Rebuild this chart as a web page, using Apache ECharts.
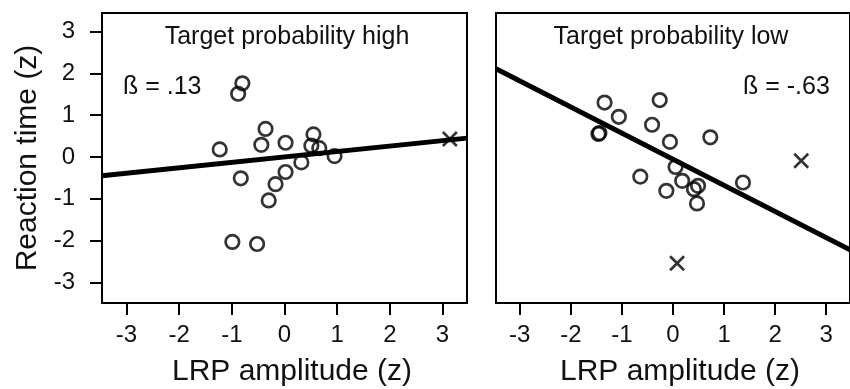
<!DOCTYPE html>
<html>
<head>
<meta charset="utf-8">
<script src="https://cdn.jsdelivr.net/npm/echarts@6/dist/echarts.min.js"></script>
<style>
html,body{margin:0;padding:0;background:#fff;}
#chart{width:850px;height:389px;}
</style>
</head>
<body>
<div id="chart"></div>
<script>
// ---- data ----
var tickValues = [-3, -2, -1, 0, 1, 2, 3];
var panelTitles = ['Target probability high', 'Target probability low'];
var betaLabels = ['\u00df = .13', '\u00df = -.63'];
var xAxisTitle = 'LRP amplitude (z)';
var yAxisTitle = 'Reaction time (z)';

// high probability panel
var highX = [-1.23, -0.88, -0.80, -0.83, -0.99, -0.52, -0.36, -0.44, -0.30, -0.17, 0.02, 0.02, 0.32, 0.55, 0.51, 0.66, 0.95];
var highY = [0.18, 1.51, 1.76, -0.51, -2.03, -2.08, 0.67, 0.29, -1.04, -0.65, 0.34, -0.36, -0.13, 0.54, 0.27, 0.21, 0.02];
var highOutX = [3.14];
var highOutY = [0.43];
var highLineX = [-3.465, 3.465];
var highLineY = [-0.45, 0.45];

// low probability panel
var lowX = [-1.34, -1.06, -1.44, -1.46, -0.26, -0.41, -0.06, 0.05, -0.64, 0.73, 0.18, -0.13, 0.49, 0.41, 0.47, 1.37];
var lowY = [1.30, 0.96, 0.57, 0.55, 1.36, 0.77, 0.36, -0.24, -0.47, 0.47, -0.57, -0.81, -0.69, -0.77, -1.11, -0.61];
var lowOutX = [2.51, 0.08];
var lowOutY = [-0.09, -2.54];
var lowLineX = [-3.465, 3.465];
var lowLineY = [2.11, -2.22];

function zip(a, b) { return a.map(function (v, i) { return [v, b[i]]; }); }

var FONT = "'Liberation Sans', Arial, sans-serif";
var crossPath = 'path://M0,0L10,10M10,0L0,10';

var chart = echarts.init(document.getElementById('chart'), null, {renderer: 'canvas'});

function xAxisFor(gi) {
  return {
    gridIndex: gi, type: 'value', min: -3.465, max: 3.465, position: 'bottom',
    splitLine: {show: false},
    axisLine: {show: false, onZero: false},
    axisTick: {show: true, customValues: tickValues, length: 12, inside: false, lineStyle: {color: '#000', width: 2}},
    axisLabel: {show: true, customValues: tickValues, margin: 20, fontSize: 24, color: '#111', fontFamily: FONT,
      formatter: function (v) { return String(v); }}
  };
}
function yAxisFor(gi, showTicks) {
  return {
    gridIndex: gi, type: 'value', min: -3.49, max: 3.44, position: 'left',
    splitLine: {show: false},
    axisLine: {show: false, onZero: false},
    axisTick: {show: showTicks, customValues: tickValues, length: 12, inside: false, lineStyle: {color: '#000', width: 2}},
    axisLabel: {show: showTicks, customValues: tickValues, margin: 27, fontSize: 24, color: '#111', fontFamily: FONT,
      formatter: function (v) { return String(v); }}
  };
}

var circleStyle = {color: 'rgba(255,255,255,0)', borderColor: '#000', borderWidth: 2.7};
var crossStyle = {color: 'rgba(255,255,255,0)', borderColor: '#000', borderWidth: 2.6};

var option = {
  animation: false,
  backgroundColor: '#fff',
  grid: [
    {left: 102, top: 13, width: 365, height: 290, show: true, borderColor: '#000', borderWidth: 2, backgroundColor: 'transparent'},
    {left: 496, top: 13, width: 364.5, height: 290, show: true, borderColor: '#000', borderWidth: 2, backgroundColor: 'transparent'}
  ],
  xAxis: [xAxisFor(0), xAxisFor(1)],
  yAxis: [yAxisFor(0, true), yAxisFor(1, false)],
  series: [
    {type: 'line', xAxisIndex: 0, yAxisIndex: 0, data: zip(highLineX, highLineY), symbol: 'none',
      lineStyle: {color: '#000', width: 5}, z: 2},
    {type: 'scatter', xAxisIndex: 0, yAxisIndex: 0, data: zip(highX, highY), symbol: 'circle', symbolSize: 13.5,
      itemStyle: circleStyle, z: 3},
    {type: 'scatter', xAxisIndex: 0, yAxisIndex: 0, data: zip(highOutX, highOutY), symbol: crossPath, symbolSize: 14,
      itemStyle: crossStyle, z: 3},
    {type: 'line', xAxisIndex: 1, yAxisIndex: 1, data: zip(lowLineX, lowLineY), symbol: 'none',
      lineStyle: {color: '#000', width: 5}, z: 2},
    {type: 'scatter', xAxisIndex: 1, yAxisIndex: 1, data: zip(lowX, lowY), symbol: 'circle', symbolSize: 13.5,
      itemStyle: circleStyle, z: 3},
    {type: 'scatter', xAxisIndex: 1, yAxisIndex: 1, data: zip(lowOutX, lowOutY), symbol: crossPath, symbolSize: 14,
      itemStyle: crossStyle, z: 3}
  ],
  graphic: [
    {type: 'text', x: 287, y: 37, style: {text: panelTitles[0], font: '25px ' + FONT, fill: '#111', align: 'center', verticalAlign: 'middle'}},
    {type: 'text', x: 671, y: 37, style: {text: panelTitles[1], font: '25px ' + FONT, fill: '#111', align: 'center', verticalAlign: 'middle'}},
    {type: 'text', x: 123, y: 87, style: {text: betaLabels[0], font: '25px ' + FONT, fill: '#111', align: 'left', verticalAlign: 'middle'}},
    {type: 'text', x: 743, y: 87, style: {text: betaLabels[1], font: '25px ' + FONT, fill: '#111', align: 'left', verticalAlign: 'middle'}},
    {type: 'text', x: 292, y: 372, style: {text: xAxisTitle, font: '30px ' + FONT, fill: '#111', align: 'center', verticalAlign: 'middle'}},
    {type: 'text', x: 680, y: 372, style: {text: xAxisTitle, font: '30px ' + FONT, fill: '#111', align: 'center', verticalAlign: 'middle'}},
    {type: 'text', x: 28, y: 158, rotation: Math.PI / 2, style: {text: yAxisTitle, font: '30px ' + FONT, fill: '#111', align: 'center', verticalAlign: 'middle'}}
  ]
};
chart.setOption(option);
</script>
</body>
</html>
